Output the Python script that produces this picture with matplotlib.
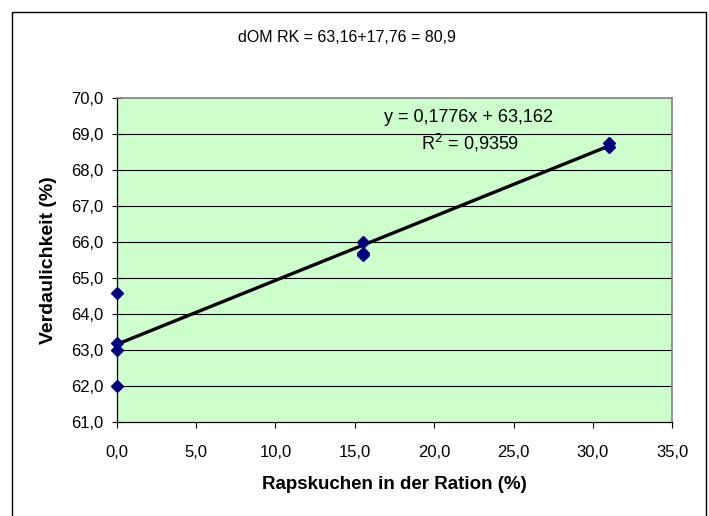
import numpy as np
import matplotlib
matplotlib.use("Agg")
import matplotlib.pyplot as plt
from matplotlib.lines import Line2D

plt.rcParams["font.family"] = ["Liberation Sans", "DejaVu Sans"]

# Rapskuchen share in ration (%) and digestibility (%)
RAPSKUCHEN = [0.0, 0.0, 0.0, 0.0, 15.5, 15.5, 15.5, 31.0, 31.0]
VERDAULICHKEIT = [64.6, 63.2, 63.0, 62.0, 66.0, 65.7, 65.65, 68.75, 68.65]

# linear trend from the chart's equation
SLOPE = 0.1776
INTERCEPT = 63.162

X_TICKS = [0, 5, 10, 15, 20, 25, 30, 35]
Y_TICKS = [61, 62, 63, 64, 65, 66, 67, 68, 69, 70]

W, H = 709, 516
fig = plt.figure(figsize=(W / 100, H / 100), dpi=100)

# outer chart frame (bottom edge lies off the picture)
frame_x = [12 / W, 12 / W, 706 / W, 706 / W]
frame_y = [0, 1 - 12 / H, 1 - 12 / H, 0]
fig.add_artist(Line2D(frame_x, frame_y, color="black", lw=1.0,
                      transform=fig.transFigure))

ax = fig.add_axes([116.7 / W, 1 - 422.3 / H, (672.3 - 116.7) / W, (422.3 - 98) / H])
ax.set_facecolor("#CCFFCC")

for yv in Y_TICKS[1:-1]:
    ax.axhline(yv, color="black", lw=0.8, zorder=1)

xs = np.array([min(RAPSKUCHEN), max(RAPSKUCHEN)])
ax.plot(xs, SLOPE * xs + INTERCEPT, color="black", lw=2.4, zorder=3)

ax.plot(RAPSKUCHEN, VERDAULICHKEIT, linestyle="none", marker="D",
        markersize=5.8, color="#000080", zorder=4, clip_on=False)

ax.set_xlim(0, 35)
ax.set_ylim(61, 70)
ax.set_xticks(X_TICKS)
ax.set_xticklabels([f"{v:.1f}".replace(".", ",") for v in X_TICKS], fontsize=12)
ax.set_yticks(Y_TICKS)
ax.set_yticklabels([f"{v:.1f}".replace(".", ",") for v in Y_TICKS], fontsize=12)
ax.tick_params(axis="x", direction="out", length=4, width=0.8, pad=12)
ax.tick_params(axis="y", direction="inout", length=7, width=0.8, pad=6)

for side in ("top", "right"):
    ax.spines[side].set_color("#808080")
    ax.spines[side].set_linewidth(1.2)
for side in ("left", "bottom"):
    ax.spines[side].set_color("black")
    ax.spines[side].set_linewidth(0.9)

ax.set_xlabel("Rapskuchen in der Ration (%)", fontsize=13.5, fontweight="bold", labelpad=12)
ax.set_ylabel("Verdaulichkeit (%)", fontsize=14, fontweight="bold", labelpad=10)

fig.text(469 / W, 1 - 118 / H, "y = 0,1776x + 63,162", fontsize=13,
         ha="center", va="center")
fig.text(470 / W, 1 - 143 / H, "R$^2$ = 0,9359", fontsize=13, ha="center", va="center")
fig.text(347 / W, 1 - 38 / H, "dOM RK = 63,16+17,76 = 80,9", fontsize=11.5,
         ha="center", va="center", family=["Liberation Sans Narrow", "Liberation Sans"])

fig.savefig("out.png", dpi=100)
